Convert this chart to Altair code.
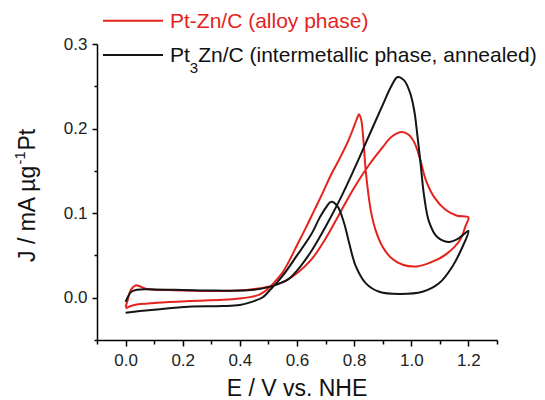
import altair as alt
import pandas as pd

FONT = "Liberation Sans, Arial, sans-serif"
RED = "#e5231d"
BLACK = "#151515"

series_names = ["Pt-Zn/C (alloy phase)", "Pt3Zn/C (intermetallic phase, annealed)"]

# Pt-Zn/C : forward scan (0 -> 1.2 V) then reverse scan (1.2 -> 0 V)
red_E = [0.0, 0.008, 0.018, 0.035, 0.05, 0.07, 0.1, 0.15, 0.2, 0.3, 0.4, 0.45, 0.5, 0.53, 0.56,
         0.6, 0.65, 0.7, 0.75, 0.8, 0.85, 0.9, 0.93, 0.965, 0.99, 1.01, 1.03, 1.05, 1.08, 1.12, 1.16, 1.2,
         1.19, 1.17, 1.12, 1.07, 1.02, 0.97, 0.93, 0.9, 0.875, 0.86, 0.85, 0.84, 0.832, 0.825, 0.817,
         0.81, 0.8, 0.78, 0.75, 0.72, 0.69, 0.66, 0.63, 0.6, 0.575, 0.55, 0.525, 0.5, 0.47, 0.44, 0.4,
         0.34, 0.22, 0.11, 0.03, 0.0]
red_J = [-0.011, -0.002, 0.009, 0.0145, 0.0135, 0.0105, 0.0095, 0.009, 0.0085, 0.008, 0.0085, 0.0102,
         0.013, 0.016, 0.02, 0.029, 0.045, 0.07, 0.1, 0.13, 0.156, 0.178, 0.19, 0.196, 0.193, 0.184,
         0.165, 0.14, 0.119, 0.104, 0.097, 0.095,
         0.085, 0.068, 0.051, 0.042, 0.037, 0.039, 0.047, 0.06, 0.08, 0.1, 0.122, 0.152, 0.188, 0.21,
         0.217, 0.212, 0.203, 0.186, 0.165, 0.146, 0.124, 0.103, 0.082, 0.062, 0.045, 0.03, 0.02,
         0.011, 0.004, 0.001, -0.001, -0.0025, -0.004, -0.006, -0.0086, -0.0125]

# Pt3Zn/C : forward scan then reverse scan
black_E = [0.0, 0.008, 0.02, 0.04, 0.1, 0.2, 0.3, 0.4, 0.45, 0.5, 0.54, 0.57, 0.6, 0.65, 0.7, 0.75,
           0.8, 0.85, 0.9, 0.93, 0.952, 0.975, 0.995, 1.01, 1.022, 1.032, 1.045, 1.062, 1.09, 1.13,
           1.165, 1.2,
           1.179, 1.144, 1.097, 1.039, 0.958, 0.888, 0.841, 0.806, 0.783, 0.765, 0.742, 0.72, 0.7,
           0.68, 0.65, 0.6, 0.55, 0.5, 0.48, 0.45, 0.4, 0.34, 0.22, 0.11, 0.05, 0.0]
black_J = [-0.005, 0.001, 0.007, 0.0095, 0.0098, 0.0092, 0.0085, 0.0085, 0.0095, 0.0125, 0.017,
           0.022, 0.032, 0.055, 0.084, 0.116, 0.152, 0.19, 0.228, 0.25, 0.261, 0.257, 0.243, 0.222,
           0.19, 0.16, 0.12, 0.09, 0.072, 0.066, 0.07, 0.079,
           0.06, 0.037, 0.017, 0.007, 0.0044, 0.007, 0.017, 0.037, 0.064, 0.088, 0.108, 0.1135,
           0.106, 0.095, 0.075, 0.05, 0.026, 0.007, 0.0005, -0.004, -0.0085, -0.0099, -0.0106,
           -0.0138, -0.0158, -0.0177]

x_ticks = [-0.1, 0.0, 0.1, 0.2, 0.3, 0.4, 0.5, 0.6, 0.7, 0.8, 0.9, 1.0, 1.1, 1.2, 1.3]
y_ticks = [-0.05, 0.0, 0.05, 0.1, 0.15, 0.2, 0.25, 0.3]

x_title = "E / V vs. NHE"
y_title_parts = ["J / mA \u00b5g", "-1", "Pt"]
legend_red = "Pt-Zn/C (alloy phase)"
legend_black_parts = ["Pt", "3", "Zn/C (intermetallic phase, annealed)"]

rows = []
for name, Es, Js in [(series_names[0], red_E, red_J), (series_names[1], black_E, black_J)]:
    for i, (e, j) in enumerate(zip(Es, Js)):
        rows.append({"series": name, "idx": i, "E": e, "J": j})
df = pd.DataFrame(rows)

x_axis = alt.Axis(
    values=x_ticks, title=None, grid=False,
    domainColor="#000000", domainWidth=1.5, tickColor="#000000", tickWidth=1.5,
    tickSize={"condition": {"test": "abs(round(datum.value*10)) % 2 == 0", "value": 6}, "value": 4},
    labelExpr="abs(round(datum.value*10)) % 2 == 0 ? format(datum.value, '.1f') : ''",
    labelFont=FONT, labelFontSize=17, labelColor="#222222", labelPadding=6,
    labelFlush=False, labelOverlap=False,
)
y_axis = alt.Axis(
    values=y_ticks, title=None, grid=False,
    domainColor="#000000", domainWidth=1.5, tickColor="#000000", tickWidth=1.5,
    tickSize={"condition": {"test": "abs(round(datum.value*20)) % 2 == 0", "value": 5}, "value": 3},
    labelExpr="abs(round(datum.value*20)) % 2 == 0 ? format(datum.value, '.1f') : ''",
    labelFont=FONT, labelFontSize=17, labelColor="#222222", labelPadding=5,
    labelFlush=False, labelOverlap=False,
)

lines = alt.Chart(df).mark_line(strokeWidth=2, interpolate="catmull-rom").encode(
    x=alt.X("E:Q", scale=alt.Scale(domain=[-0.1, 1.3], nice=False, zero=False), axis=x_axis),
    y=alt.Y("J:Q", scale=alt.Scale(domain=[-0.05, 0.3], nice=False, zero=False), axis=y_axis),
    color=alt.Color("series:N", scale=alt.Scale(domain=series_names, range=[RED, BLACK]), legend=None),
    order="idx:Q",
)

one = pd.DataFrame({"k": [0]})


def txt(s, x, y, size, color="#111111", angle=0, align="left"):
    return alt.Chart(one).mark_text(
        text=s, font=FONT, fontSize=size, color=color, align=align,
        baseline="alphabetic", angle=angle,
    ).encode(x=alt.value(x), y=alt.value(y))


def seg(x1, x2, y, color):
    return alt.Chart(one).mark_rule(color=color, strokeWidth=2).encode(
        x=alt.value(x1), x2=alt.value(x2), y=alt.value(y))


LF = 21
pt_w = 0.945 * LF
sub_w = 0.556 * 15
legend = [
    seg(6, 66, -23.3, RED),
    txt(legend_red, 73, -15.7, LF, RED),
    seg(6, 66, 11, BLACK),
    txt(legend_black_parts[0], 73, 18.3, LF),
    txt(legend_black_parts[1], 73 + pt_w, 28.5, 15),
    txt(legend_black_parts[2], 73 + pt_w + sub_w, 18.3, LF),
]

YF = 23
w1 = 4.244 * YF
w2 = 0.889 * 14.5
ytitle = [
    txt(y_title_parts[0], -62, 218, YF, angle=270),
    txt(y_title_parts[1], -72, 218 - w1, 14.5, angle=270),
    txt(y_title_parts[2], -62, 218 - w1 - w2 - 1, YF, angle=270),
]

xtitle = [txt(x_title, 200, 352, 23, align="center")]

chart = alt.layer(lines, *legend, *ytitle, *xtitle).properties(
    width=400, height=296,
    padding={"left": 97, "top": 44, "right": 48, "bottom": 60},
    autosize=alt.AutoSizeParams(type="none"),
    background="white",
).configure_view(strokeWidth=0)

chart.save("out.html", embed_options={"renderer": "svg", "actions": False})
